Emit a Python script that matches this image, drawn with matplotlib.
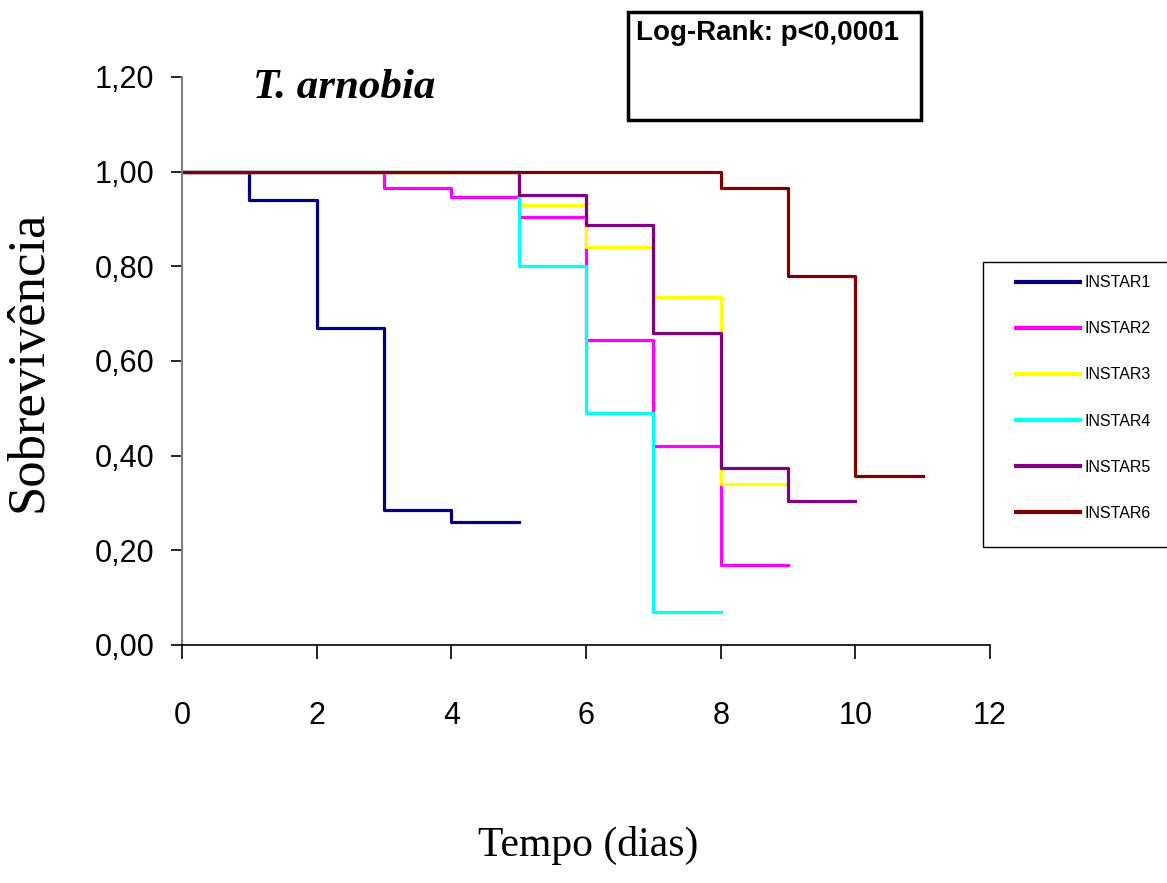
import matplotlib
matplotlib.use("Agg")
import matplotlib.pyplot as plt
from matplotlib.patches import Rectangle

# Kaplan-Meier steps (time in days, survival)
t_instar1 = [0, 1, 2, 3, 4, 5]
s_instar1 = [1.00, 0.94, 0.67, 0.285, 0.26, 0.26]
t_instar2 = [0, 3, 4, 5, 6, 7, 8, 9]
s_instar2 = [1.00, 0.965, 0.947, 0.905, 0.645, 0.42, 0.17, 0.17]
t_instar3 = [0, 5, 6, 7, 8, 9]
s_instar3 = [1.00, 0.93, 0.84, 0.735, 0.34, 0.34]
t_instar4 = [0, 5, 6, 7, 8]
s_instar4 = [1.00, 0.80, 0.49, 0.07, 0.07]
t_instar5 = [0, 5, 6, 7, 8, 9, 10]
s_instar5 = [1.00, 0.95, 0.887, 0.66, 0.375, 0.305, 0.305]
t_instar6 = [0, 8, 9, 10, 11]
s_instar6 = [1.00, 0.965, 0.78, 0.357, 0.357]

labels = ["INSTAR1", "INSTAR2", "INSTAR3", "INSTAR4", "INSTAR5", "INSTAR6"]
colors = ["#000080", "#FF00FF", "#FFFF00", "#00FFFF", "#800080", "#800000"]
series = [
    (t_instar1, s_instar1), (t_instar2, s_instar2), (t_instar3, s_instar3),
    (t_instar4, s_instar4), (t_instar5, s_instar5), (t_instar6, s_instar6),
]

x_ticks = [0, 2, 4, 6, 8, 10, 12]
y_ticks = [0.0, 0.2, 0.4, 0.6, 0.8, 1.0, 1.2]

NARROW = ["Liberation Sans Narrow", "Liberation Sans", "DejaVu Sans"]
SERIF = ["Liberation Serif", "DejaVu Serif"]

W, H = 1167, 883
fig = plt.figure(figsize=(W / 100, H / 100), dpi=100)
ax = fig.add_axes([182 / W, 1 - 645 / H, (990 - 182) / W, (645 - 77) / H])

lines = []
for (t, s), c, lab in zip(series, colors, labels):
    ln, = ax.step(t, s, where="post", color=c, lw=2.3, label=lab)
    lines.append(ln)

ax.set_xlim(0, 12)
ax.set_ylim(0, 1.2)
ax.set_xticks(x_ticks)
ax.set_yticks(y_ticks)
ax.set_xticklabels([str(v) for v in x_ticks], family=NARROW, fontsize=22)
ax.set_yticklabels([f"{v:.2f}".replace(".", ",") for v in y_ticks], family=NARROW, fontsize=22)
ax.tick_params(axis="y", direction="out", length=8, width=1.2, pad=12, colors="black")
ax.tick_params(axis="x", direction="out", length=10, width=1.2, pad=30, colors="black")
for side in ["top", "right"]:
    ax.spines[side].set_visible(False)
ax.spines["left"].set_color("#808080")
ax.spines["left"].set_linewidth(1.5)
ax.spines["bottom"].set_color("black")
ax.spines["bottom"].set_linewidth(1.2)

# axis titles
fig.text(29 / W, 1 - 361 / H, "Sobrevivência", family=SERIF, fontsize=38,
         rotation=90, ha="center", va="center")
fig.text(588 / W, 1 - 845 / H, "Tempo (dias)", family=SERIF, fontsize=30,
         ha="center", va="center")
fig.text(344 / W, 1 - 88 / H, "T. arnobia", family=SERIF, fontsize=31,
         style="italic", weight="bold", ha="center", va="center")

# Log-Rank box
fig.patches.append(Rectangle((628 / W, 1 - 120 / H), (921 - 628) / W, (120 - 12) / H,
                             transform=fig.transFigure, fill=False, ec="black", lw=2.5))
fig.text(636 / W, 1 - 20 / H, "Log-Rank: p<0,0001", family=NARROW, fontsize=20,
         weight="bold", ha="left", va="top")

# legend frame (runs past the right edge)
fig.patches.append(Rectangle((983 / W, 1 - 547 / H), 300 / W, (547 - 262) / H,
                             transform=fig.transFigure, fill=False, ec="black", lw=1,
                             clip_on=False))
leg = ax.legend(lines, labels, loc="center left", bbox_to_anchor=(1016 / W, 1 - 398 / H),
                bbox_transform=fig.transFigure, frameon=False, borderpad=0, borderaxespad=0,
                prop={"family": NARROW, "size": 11.5}, handlelength=4.0, handletextpad=0.3,
                labelspacing=1.95)
for h in leg.legend_handles:
    h.set_linewidth(3)

fig.savefig("out.png", dpi=100)
